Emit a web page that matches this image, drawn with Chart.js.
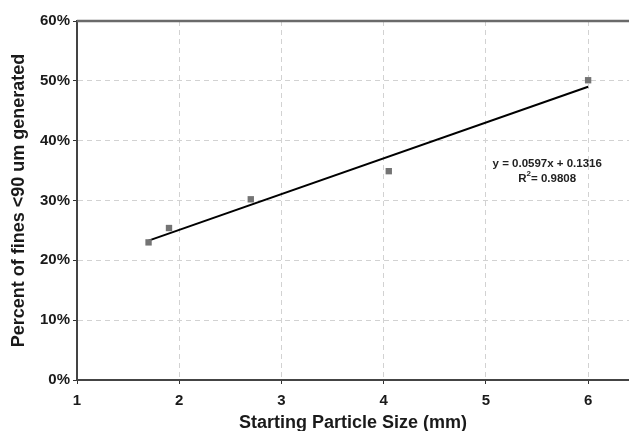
<!DOCTYPE html>
<html>
<head>
<meta charset="utf-8">
<script src="https://cdn.jsdelivr.net/npm/chart.js@4.4.1/dist/chart.umd.min.js"></script>
<style>
  html, body { margin: 0; padding: 0; background: #fff; }
  #wrap { width: 629px; height: 431px; }
</style>
</head>
<body>
<div id="wrap"><canvas id="chart" width="629" height="431"></canvas></div>
<script>
// measured points
var sizes = [1.7, 1.9, 2.7, 4.05, 6.0];
var fines = [0.230, 0.254, 0.302, 0.349, 0.501];

// trendline ends
var trendX = [1.7, 6.0];
var trendY = [0.233, 0.490];
var trendText = ["y = 0.0597x + 0.1316", "R", "2", "= 0.9808"];

var xTicks = [1, 2, 3, 4, 5, 6];
var yTicks = [0, 0.1, 0.2, 0.3, 0.4, 0.5, 0.6];

var FONT = "'Liberation Sans', Arial, Helvetica, sans-serif";

// top frame line + the equation text
var extras = {
    id: 'extras',
    beforeDatasetsDraw: function (chart) {
        var ctx = chart.ctx, a = chart.chartArea;
        ctx.save();
        ctx.strokeStyle = '#6a6a6a';
        ctx.lineWidth = 2.5;
        ctx.beginPath();
        ctx.moveTo(a.left, a.top);
        ctx.lineTo(a.right, a.top);
        ctx.stroke();
        ctx.restore();
    },
    afterDatasetsDraw: function (chart) {
        var ctx = chart.ctx;
        var xs = chart.scales.x, ys = chart.scales.y;
        var cx = xs.getPixelForValue(5.6);
        ctx.save();
        ctx.fillStyle = '#222';
        ctx.textBaseline = 'middle';
        ctx.font = 'bold 11.5px ' + FONT;
        ctx.textAlign = 'center';
        ctx.fillText(trendText[0], cx, ys.getPixelForValue(0.362));

        // R² line with a raised 2
        var y2 = ys.getPixelForValue(0.337);
        var wR = ctx.measureText(trendText[1]).width;
        var wEq = ctx.measureText(trendText[3]).width;
        ctx.font = 'bold 8px ' + FONT;
        var w2 = ctx.measureText(trendText[2]).width;
        var x0 = cx - (wR + w2 + wEq) / 2;
        ctx.textAlign = 'left';
        ctx.font = 'bold 11.5px ' + FONT;
        ctx.fillText(trendText[1], x0, y2);
        ctx.font = 'bold 8px ' + FONT;
        ctx.fillText(trendText[2], x0 + wR, y2 - 5);
        ctx.font = 'bold 11.5px ' + FONT;
        ctx.fillText(trendText[3], x0 + wR + w2, y2);
        ctx.restore();
    }
};

var ctx = document.getElementById('chart').getContext('2d');
var chart = new Chart(ctx, {
    type: 'scatter',
    data: {
        datasets: [{
            label: 'Fines',
            data: sizes.map(function (x, i) { return {x: x, y: fines[i]}; }),
            pointStyle: 'rect',
            pointRadius: 4.5,
            pointBorderWidth: 0,
            backgroundColor: '#747474',
            borderColor: '#747474',
            order: 1
        }, {
            label: 'Linear',
            type: 'line',
            data: trendX.map(function (x, i) { return {x: x, y: trendY[i]}; }),
            borderColor: '#000',
            borderWidth: 2,
            pointRadius: 0,
            fill: false,
            order: 2
        }]
    },
    options: {
        responsive: false,
        animation: false,
        layout: { autoPadding: false, padding: { top: 21, left: 0, right: 0, bottom: 0 } },
        plugins: {
            legend: { display: false },
            tooltip: { enabled: false }
        },
        scales: {
            x: {
                type: 'linear',
                min: 1,
                max: 6.4,
                afterBuildTicks: function (s) {
                    s.ticks = xTicks.map(function (v) { return {value: v}; });
                },
                afterFit: function (s) {
                    s.height = 51;
                    s.paddingLeft = 0;
                    s.paddingRight = 0;
                },
                ticks: {
                    includeBounds: false,
                    color: '#1a1a1a',
                    padding: 8,
                    font: { family: FONT, size: 15, weight: 'bold' }
                },
                grid: {
                    color: '#d2d2d2',
                    tickColor: '#333',
                    tickLength: 4,
                    lineWidth: 1
                },
                border: { color: '#444', width: 2, dash: [5, 4] },
                title: {
                    display: true,
                    text: 'Starting Particle Size (mm)',
                    color: '#1a1a1a',
                    padding: { top: 0, bottom: 0 },
                    font: { family: FONT, size: 18, weight: 'bold', lineHeight: 0.9 }
                }
            },
            y: {
                type: 'linear',
                min: 0,
                max: 0.6,
                afterBuildTicks: function (s) {
                    s.ticks = yTicks.map(function (v) { return {value: v}; });
                },
                afterFit: function (s) { s.width = 77; },
                ticks: {
                    color: '#1a1a1a',
                    padding: 3,
                    font: { family: FONT, size: 15, weight: 'bold' },
                    callback: function (v) { return Math.round(v * 100) + '%'; }
                },
                grid: {
                    color: '#d2d2d2',
                    tickColor: '#333',
                    tickLength: 4,
                    lineWidth: 1
                },
                border: { color: '#444', width: 2, dash: [5, 4] },
                title: {
                    display: true,
                    text: 'Percent of fines <90 um generated',
                    color: '#1a1a1a',
                    padding: { top: 10.5, bottom: 0 },
                    font: { family: FONT, size: 18, weight: 'bold', lineHeight: 0.9 }
                }
            }
        }
    },
    plugins: [extras]
});
</script>
</body>
</html>
